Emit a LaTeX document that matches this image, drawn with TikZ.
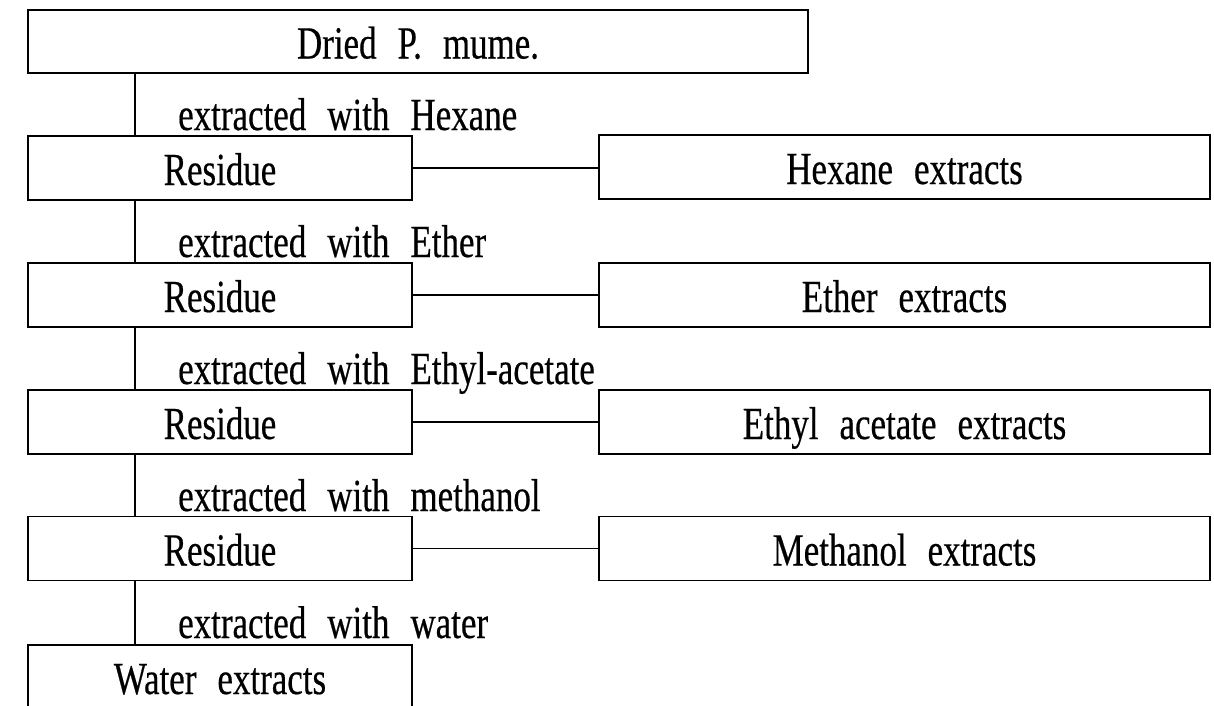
\documentclass[tikz,border=0pt]{standalone}
\usepackage{fontspec}
\setmainfont[FakeStretch=0.76,FakeBold=0.4]{Liberation Serif}
\newcommand\pmfont{\fontsize{46}{50}\selectfont\spaceskip=21pt\relax}
\begin{document}
\begin{tikzpicture}[x=1pt,y=-1pt,
  txt/.style={font=\pmfont},
  box/.style={txt,draw,line width=1.8pt,inner sep=0pt,minimum height=64pt,text height=34pt,text depth=0pt},
  lbox/.style={box,minimum width=384pt},
  rbox/.style={box,minimum width=611pt},
  lab/.style={txt,inner sep=0pt,anchor=base west},
  conn/.style={line width=1.7pt}]
\clip (0,0) rectangle (1214,705);
\fill[white] (0,0) rectangle (1214,705);
\node[box,minimum width=780pt,minimum height=63pt] (top) at (418,41.5) {Dried P. mume.};
\node[lbox] (r1) at (220,168) {Residue};
\node[lbox] (r2) at (220,295) {Residue};
\node[lbox] (r3) at (220,422) {Residue};
\node[lbox] (r4) at (220,548.5) {Residue};
\node[lbox] (w) at (220,677) {Water extracts};
\node[rbox] (e1) at (904.5,167) {Hexane extracts};
\node[rbox] (e2) at (904.5,295) {Ether extracts};
\node[rbox] (e3) at (904.5,422) {Ethyl acetate extracts};
\node[rbox] (e4) at (904.5,548.5) {Methanol extracts};
\node[lab] (l1) at (178,130) {extracted with Hexane};
\node[lab] (l2) at (178,257) {extracted with Ether};
\node[lab] (l3) at (178,384) {extracted with Ethyl-acetate};
\node[lab] (l4) at (178,511) {extracted with methanol};
\node[lab] (l5) at (178,638) {extracted with water};
\coordinate (vx) at (135,0);
\draw[conn] (top.south -| vx) -- (r1.north -| vx);
\draw[conn] (r1.south -| vx) -- (r2.north -| vx);
\draw[conn] (r2.south -| vx) -- (r3.north -| vx);
\draw[conn] (r3.south -| vx) -- (r4.north -| vx);
\draw[conn] (r4.south -| vx) -- (w.north -| vx);
\draw[conn] (r1.east) -- (r1.east -| e1.west);
\draw[conn] (r2.east) -- (e2.west);
\draw[conn] (r3.east) -- (e3.west);
\draw[conn] (r4.east) -- (e4.west);
\end{tikzpicture}
\end{document}
